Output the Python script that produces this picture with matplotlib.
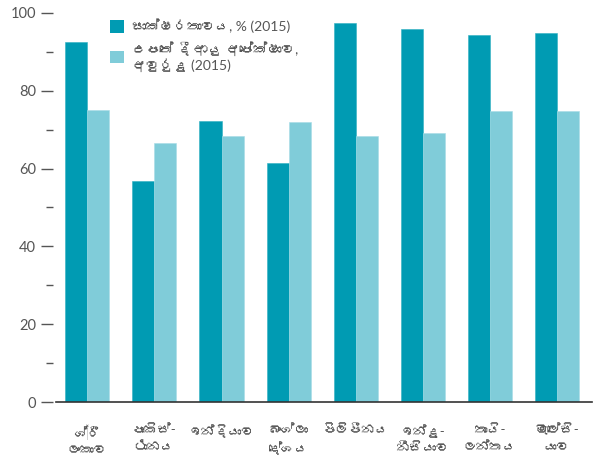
import matplotlib
matplotlib.use('Agg')
import matplotlib.pyplot as plt
from matplotlib import font_manager
from matplotlib.ft2font import FT2Font
from matplotlib.patches import Patch
import numpy as np

# Data
countries = ['ශ්‍රී\nලංකාව', 'පාකිස්-\nථානය', 'ඉන්දියාව', 'බංග්ලා\nදේශය',
             'පිලිපීනය', 'ඉන්දු-\nනීසියාව', 'තායි-\nලන්තය', 'මැලේසි-\nයාව']
literacy = [92.6, 56.8, 72.1, 61.5, 97.4, 95.9, 94.4, 94.9]
life_exp = [75.0, 66.5, 68.3, 72.0, 68.3, 69.1, 74.9, 74.9]
legend_labels = ['සාක්ෂරතාවය, % (2015)', 'උපතේ දී ආයු අපේක්ෂාව,\nඅවුරුදු (2015)']
yticks = [0, 20, 40, 60, 80, 100]

dark = '#009bb3'
light = '#80ccd9'
grey = '#555555'


# find a font that can draw Sinhala, if one is installed
def sinhala_font():
    for f in font_manager.fontManager.ttflist:
        try:
            if FT2Font(f.fname).get_char_index(ord('ශ')):
                return f.name
        except Exception:
            pass
    return None


fams = ['Lato', 'DejaVu Sans']
si = sinhala_font()
if si:
    fams = ['Lato', si, 'DejaVu Sans']
plt.rcParams['font.family'] = fams

fig = plt.figure(figsize=(5.97, 4.59), dpi=100)
ax = fig.add_axes([0.0938, 0.124, 0.897, 0.848])

x = np.arange(len(countries))
w = 0.328
ax.bar(x - w / 2, literacy, w, color=dark, edgecolor='#2fb0c2', linewidth=0.4)
ax.bar(x + w / 2, life_exp, w, color=light, edgecolor='#a6dce6', linewidth=0.4)

ax.set_xlim(-0.466, 7.513)
ax.set_ylim(0, 100)

for s in ['top', 'right', 'left']:
    ax.spines[s].set_visible(False)
ax.spines['left'].set_position(('outward', 2))
ax.spines['bottom'].set_color('#333333')
ax.spines['bottom'].set_linewidth(1.2)

ax.set_yticks(yticks)
ax.set_yticks([10, 30, 50, 70, 90], minor=True)
ax.tick_params(axis='y', which='major', length=9, width=1, color=grey,
               labelcolor=grey, labelsize=10.5, pad=3.5)
ax.tick_params(axis='y', which='minor', length=5, width=1, color=grey)

ax.set_xticks(x)
ax.set_xticklabels(countries, fontsize=9.5, color=grey, linespacing=1.45)
ax.tick_params(axis='x', length=0, pad=16)

handles = [Patch(facecolor=dark), Patch(facecolor=light)]
fig.legend(handles, legend_labels, loc='upper left', bbox_to_anchor=(0.172, 0.975),
           frameon=False, fontsize=10, labelcolor=grey, handlelength=1.0,
           handleheight=1.0, handletextpad=0.6, borderpad=0, labelspacing=0.6)

fig.savefig('out.png', dpi=100)
